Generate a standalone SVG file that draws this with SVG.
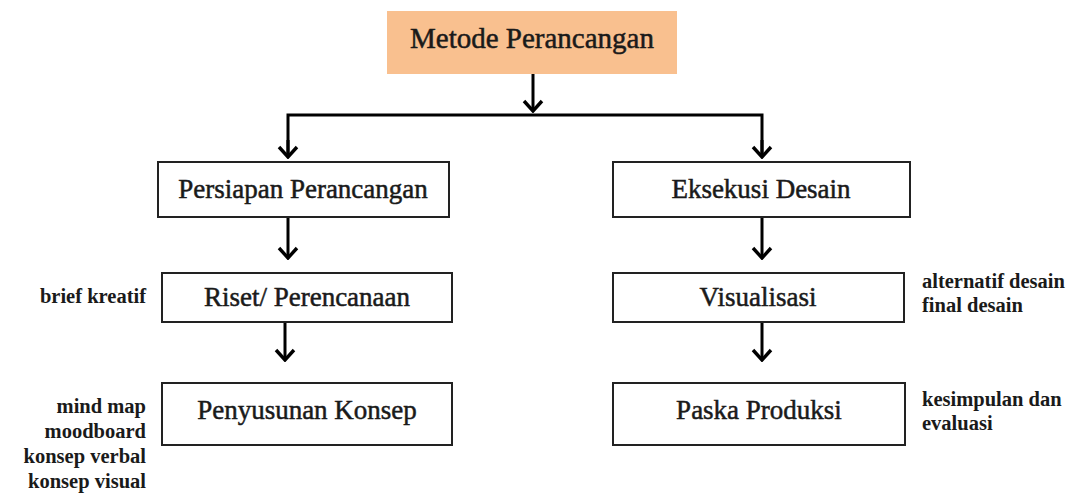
<svg xmlns="http://www.w3.org/2000/svg" width="1068" height="499" viewBox="0 0 1068 499">
<style>
.box{fill:#fff;stroke:#222;stroke-width:2}
.t{font-family:"Liberation Serif",serif;font-size:27px;fill:#1a1a1a;stroke:#1a1a1a;stroke-width:0.5;text-anchor:middle}
.s{font-family:"Liberation Serif",serif;font-size:20.5px;font-weight:bold;fill:#1a1a1a}
.c{fill:none;stroke:#000;stroke-width:3}
</style>
<defs>
<marker id="ah" viewBox="0 0 14 22" refX="12" refY="11" markerWidth="14" markerHeight="22" markerUnits="userSpaceOnUse" orient="auto">
<path d="M2 2 L12 11 L2 20" fill="none" stroke="#000" stroke-width="3.4"/>
</marker>
</defs>
<rect width="1068" height="499" fill="#fff"/>
<g id="connectors">
<line class="c" x1="533" y1="74" x2="533" y2="111" marker-end="url(#ah)"/>
<polyline class="c" points="288,157 288,115 762,115 762,157"/>
<line class="c" x1="288" y1="140" x2="288" y2="157" marker-end="url(#ah)"/>
<line class="c" x1="762" y1="140" x2="762" y2="157" marker-end="url(#ah)"/>
<line class="c" x1="288" y1="217" x2="288" y2="258" marker-end="url(#ah)"/>
<line class="c" x1="762" y1="217" x2="762" y2="258" marker-end="url(#ah)"/>
<line class="c" x1="285" y1="322" x2="285" y2="360" marker-end="url(#ah)"/>
<line class="c" x1="762" y1="322" x2="762" y2="360" marker-end="url(#ah)"/>
</g>
<g id="metode">
<rect x="387" y="11" width="290" height="63" fill="#f9c08f"/>
<text class="t" x="532" y="48" style="font-size:29px">Metode Perancangan</text>
</g>
<g id="persiapan">
<rect class="box" x="158" y="162" width="291" height="55"/>
<text class="t" x="303" y="198">Persiapan Perancangan</text>
</g>
<g id="eksekusi">
<rect class="box" x="613" y="162" width="297" height="55"/>
<text class="t" x="761" y="198">Eksekusi Desain</text>
</g>
<g id="riset">
<rect class="box" x="162" y="273" width="290" height="49"/>
<text class="t" x="307" y="306">Riset/ Perencanaan</text>
<text class="s" x="146" y="303" text-anchor="end">brief kreatif</text>
</g>
<g id="penyusunan">
<rect class="box" x="162" y="383" width="290" height="62"/>
<text class="t" x="307" y="419">Penyusunan Konsep</text>
<text class="s" x="146" y="413" text-anchor="end">mind map</text>
<text class="s" x="146" y="438" text-anchor="end">moodboard</text>
<text class="s" x="146" y="463" text-anchor="end">konsep verbal</text>
<text class="s" x="146" y="488" text-anchor="end">konsep visual</text>
</g>
<g id="visualisasi">
<rect class="box" x="613" y="273" width="291" height="49"/>
<text class="t" x="758" y="306">Visualisasi</text>
<text class="s" x="922" y="288">alternatif desain</text>
<text class="s" x="922" y="312">final desain</text>
</g>
<g id="paska">
<rect class="box" x="613" y="383" width="292" height="62"/>
<text class="t" x="759" y="419">Paska Produksi</text>
<text class="s" x="922" y="406">kesimpulan dan</text>
<text class="s" x="922" y="430">evaluasi</text>
</g>
</svg>
